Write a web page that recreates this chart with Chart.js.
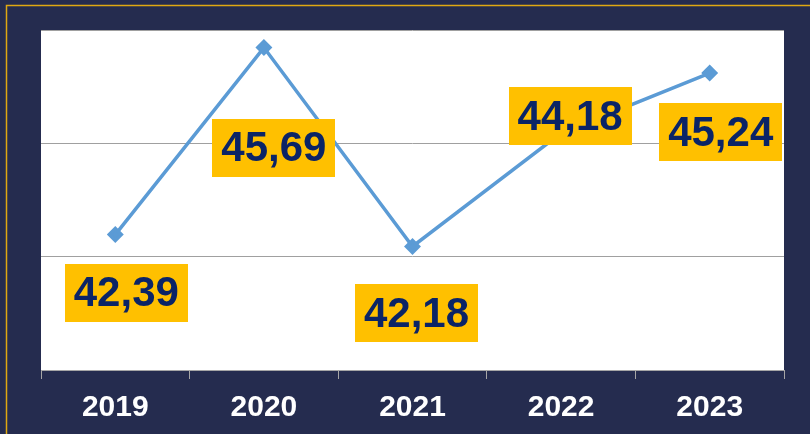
<!DOCTYPE html>
<html>
<head>
<meta charset="utf-8">
<script src="https://cdn.jsdelivr.net/npm/chart.js@4/dist/chart.umd.min.js"></script>
<style>
  html, body { margin: 0; padding: 0; background: #252c4f; }
  #wrap { width: 810px; height: 434px; }
</style>
</head>
<body>
<div id="wrap"><canvas id="grafico" width="810" height="434"></canvas></div>
<script>
const anos = ['2019', '2020', '2021', '2022', '2023'];
const valores = [42.39, 45.69, 42.18, 44.18, 45.24];
const etiquetas = ['42,39', '45,69', '42,18', '44,18', '45,24'];

// desplazamiento de cada etiqueta respecto a su punto
const desplaz = [[11, 58], [10, 100], [4, 67], [9, -17], [11, 59]];

const fondo = {
    id: 'fondo',
    beforeDraw(chart) {
        const { ctx, chartArea: a } = chart;
        ctx.save();
        ctx.fillStyle = '#252c4f';
        ctx.fillRect(0, 0, chart.width, chart.height);
        ctx.strokeStyle = '#e0a812';
        ctx.lineWidth = 1.5;
        ctx.strokeRect(6.5, 5.5, 900, 900);
        ctx.fillStyle = '#ffffff';
        ctx.fillRect(a.left, a.top, a.right - a.left, a.bottom - a.top);
        ctx.restore();
    }
};

const cajas = {
    id: 'cajas',
    afterDatasetsDraw(chart) {
        const ctx = chart.ctx;
        const pts = chart.getDatasetMeta(0).data;
        ctx.save();
        ctx.font = 'bold 42px "Liberation Sans", Arial, sans-serif';
        ctx.textAlign = 'center';
        ctx.textBaseline = 'middle';
        pts.forEach((p, i) => {
            const cx = p.x + desplaz[i][0];
            const cy = p.y + desplaz[i][1];
            const w = 123, h = 58;
            ctx.fillStyle = '#ffc000';
            ctx.fillRect(Math.round(cx - w / 2), Math.round(cy - h / 2), w, h);
            ctx.fillStyle = '#0b2466';
            ctx.fillText(etiquetas[i], cx, cy + 2);
        });
        ctx.restore();
    }
};

new Chart(document.querySelector('#grafico'), {
    type: 'line',
    data: {
        labels: anos,
        datasets: [{
            data: valores,
            borderColor: '#5b9bd5',
            backgroundColor: '#5b9bd5',
            borderWidth: 3.5,
            pointStyle: 'rectRot',
            pointRadius: 6,
            pointHoverRadius: 6,
            tension: 0
        }]
    },
    options: {
        responsive: false,
        animation: false,
        layout: { padding: { left: 41, right: 26, top: 30, bottom: 0 } },
        plugins: { legend: { display: false }, tooltip: { enabled: false } },
        scales: {
            x: {
                offset: true,
                grid: { offset: true, drawOnChartArea: false, drawTicks: true, tickLength: 9, color: '#a6a6a6' },
                border: { color: '#a6a6a6', width: 1 },
                ticks: {
                    color: '#ffffff',
                    padding: 11,
                    font: { family: '"Liberation Sans", Arial, sans-serif', size: 30, weight: 'bold' }
                },
                afterFit(s) { s.height = 64; }
            },
            y: {
                min: 40,
                max: 46,
                ticks: { stepSize: 2, display: false },
                grid: { color: '#a0a0a0', drawTicks: false },
                border: { display: false },
                afterFit(s) { s.width = 0; }
            }
        }
    },
    plugins: [fondo, cajas]
});
</script>
</body>
</html>
